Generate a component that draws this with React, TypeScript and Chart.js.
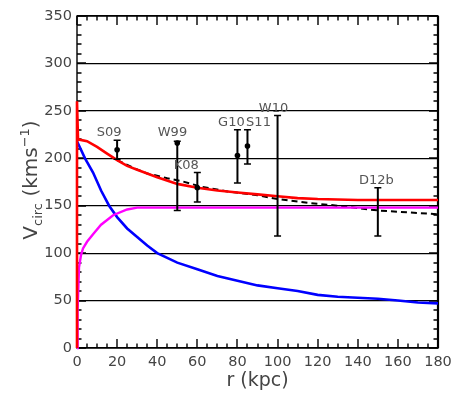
import React, { useEffect, useRef } from "react";
import { Chart, registerables } from "chart.js";

Chart.register(...registerables);

// Total rotation curve (red)
const rTotal = [0, 0, 0.5, 5, 10, 15, 20, 25, 30, 40, 50, 60, 70, 80, 90, 100, 110, 120, 140, 160, 180];
const vTotal = [0, 260, 220, 218, 212, 205, 198, 192, 188, 180, 173, 169, 166, 164, 162, 160, 158, 157, 156, 156, 156];

// Alternative model (black dashed)
const rAlt = [20, 29, 35, 45, 52, 62, 75, 90, 100, 115, 130, 150, 165, 180];
const vAlt = [198, 189, 184, 179, 176, 170, 165, 161, 157, 153, 150, 145, 143, 141];

// Baryonic component (blue)
const rBaryon = [0, 4, 8, 12, 16, 20, 25, 30, 35, 40, 50, 60, 70, 80, 90, 100, 110, 120, 130, 140, 150, 160, 170, 180];
const vBaryon = [218, 200, 185, 166, 150, 138, 126, 117, 108, 100, 90, 83, 76, 71, 66, 63, 60, 56, 54, 53, 52, 50, 48, 47];

// Dark halo component (magenta)
const rHalo = [0, 0.3, 1, 2, 3, 5, 8, 12, 18, 25, 30, 180];
const vHalo = [0, 40, 85, 98, 105, 112, 120, 130, 140, 146, 148, 148];

// Observational estimates with error bars
const obsNames = ["S09", "W99", "K08", "G10", "S11", "W10", "D12b"];
const obsR = [20, 50, 60, 80, 85, 100, 150];
const obsV: (number | null)[] = [209, 216, 169, 203, 213, null, null];
const obsLo = [199, 145, 154, 174, 194, 118, 118];
const obsHi = [219, 218, 185, 230, 230, 245, 169];
// label anchors (data units: r centre, v baseline)
const labelR = [16, 47.6, 54.5, 77, 90.5, 98, 149.3];
const labelV = [224, 224, 189, 234.5, 234.5, 249, 173];

const xTicks = [0, 20, 40, 60, 80, 100, 120, 140, 160, 180];
const yTicks = [0, 50, 100, 150, 200, 250, 300, 350];

const pts = (xs: number[], ys: number[]) => xs.map((x, i) => ({ x, y: ys[i] }));

const FONT = "'DejaVu Sans', sans-serif";

function drawFrame(chart: any) {
  const ctx = chart.ctx;
  const a = chart.chartArea;
  const xs = chart.scales.x;
  const ys = chart.scales.y;
  ctx.save();
  ctx.strokeStyle = "#000000";
  ctx.lineWidth = 1.4;
  ctx.beginPath();
  for (let v = 0; v <= 180; v += 5) {
    const px = Math.round(xs.getPixelForValue(v));
    const len = v % 20 === 0 ? 9 : 4.5;
    ctx.moveTo(px, a.bottom);
    ctx.lineTo(px, a.bottom - len);
    ctx.moveTo(px, a.top);
    ctx.lineTo(px, a.top + len);
  }
  for (let v = 0; v <= 350; v += 10) {
    const py = Math.round(ys.getPixelForValue(v));
    const len = v % 50 === 0 ? 9 : 4.5;
    ctx.moveTo(a.left, py);
    ctx.lineTo(a.left + len, py);
    ctx.moveTo(a.right, py);
    ctx.lineTo(a.right - len, py);
  }
  ctx.stroke();
  ctx.lineWidth = 1.4;
  ctx.strokeRect(a.left, a.top, a.right - a.left, a.bottom - a.top);
  ctx.lineWidth = 2.2;
  ctx.beginPath();
  ctx.moveTo(a.right, a.top);
  ctx.lineTo(a.right, a.bottom);
  ctx.stroke();
  ctx.restore();
}

const overlay = {
  id: "overlay",
  beforeDatasetsDraw(chart: any) {
    drawFrame(chart);
  },
  afterDatasetsDraw(chart: any) {
    const { ctx, chartArea: a, scales } = chart;
    const xs = scales.x, ys = scales.y;
    ctx.save();
    // error bars
    ctx.strokeStyle = "#000";
    ctx.fillStyle = "#000";
    for (let i = 0; i < obsR.length; i++) {
      const px = xs.getPixelForValue(obsR[i]);
      const pLo = ys.getPixelForValue(obsLo[i]);
      const pHi = ys.getPixelForValue(obsHi[i]);
      ctx.lineWidth = 2;
      ctx.beginPath();
      ctx.moveTo(px, pLo);
      ctx.lineTo(px, pHi);
      ctx.stroke();
      ctx.lineWidth = 1.5;
      ctx.beginPath();
      ctx.moveTo(px - 3.5, pLo);
      ctx.lineTo(px + 3.5, pLo);
      ctx.moveTo(px - 3.5, pHi);
      ctx.lineTo(px + 3.5, pHi);
      ctx.stroke();
      const v = obsV[i];
      if (v !== null) {
        ctx.beginPath();
        ctx.arc(px, ys.getPixelForValue(v), 2.8, 0, Math.PI * 2);
        ctx.fill();
      }
    }
    // labels
    ctx.fillStyle = "#555";
    ctx.font = `13px ${FONT}`;
    ctx.textAlign = "center";
    ctx.textBaseline = "alphabetic";
    for (let i = 0; i < obsNames.length; i++) {
      ctx.fillText(obsNames[i], xs.getPixelForValue(labelR[i]), ys.getPixelForValue(labelV[i]));
    }
    // x title
    ctx.fillStyle = "#444";
    ctx.font = `19px ${FONT}`;
    ctx.textAlign = "center";
    ctx.fillText("r (kpc)", (a.left + a.right) / 2, 386);
    // y title with sub/superscript
    const parts: [string, number, number][] = [
      ["V", 20, 0],
      ["circ", 13, 4.5],
      [" (kms", 20, 0],
      ["\u22121", 13, -8],
      [")", 20, 0],
    ];
    ctx.textAlign = "left";
    let total = 0;
    for (const [t, s] of parts) {
      ctx.font = `${s}px ${FONT}`;
      total += ctx.measureText(t).width;
    }
    ctx.translate(37, 180);
    ctx.rotate(-Math.PI / 2);
    let x = -total / 2;
    for (const [t, s, dy] of parts) {
      ctx.font = `${s}px ${FONT}`;
      ctx.fillText(t, x, dy);
      x += ctx.measureText(t).width;
    }
    ctx.restore();
  },
};

export default function App() {
  const ref = useRef<HTMLCanvasElement>(null);
  useEffect(() => {
    if (!ref.current) return;
    const chart = new Chart(ref.current, {
      type: "scatter",
      data: {
        datasets: [
          {
            data: pts(rTotal, vTotal),
            showLine: true,
            borderColor: "#ff0000",
            borderWidth: 2.6,
            pointRadius: 0,
            clip: false as any,
            order: 0,
          },
          {
            data: pts(rHalo, vHalo),
            showLine: true,
            borderColor: "#ff00ff",
            borderWidth: 2.4,
            pointRadius: 0,
            clip: false as any,
            order: 1,
          },
          {
            data: pts(rAlt, vAlt),
            showLine: true,
            borderColor: "#000",
            borderWidth: 2,
            borderDash: [6, 4],
            pointRadius: 0,
            order: 2,
          },
          {
            data: pts(rBaryon, vBaryon),
            showLine: true,
            borderColor: "#0000ff",
            borderWidth: 2.6,
            pointRadius: 0,
            clip: false as any,
            order: 3,
          },
        ],
      },
      options: {
        animation: false,
        responsive: false,
        devicePixelRatio: 1,
        layout: { padding: { top: 16, right: 24, left: 0, bottom: 0 } },
        plugins: { legend: { display: false }, tooltip: { enabled: false } },
        scales: {
          x: {
            type: "linear",
            min: 0,
            max: 180,
            afterFit: (s: any) => { s.height = 53; },
            afterBuildTicks: (s: any) => { s.ticks = xTicks.map((v) => ({ value: v })); },
            grid: { display: false, drawTicks: false },
            border: { display: false },
            ticks: { color: "#444", font: { family: FONT, size: 14.5 }, padding: 6, maxRotation: 0 },
          },
          y: {
            type: "linear",
            min: 0,
            max: 350,
            afterFit: (s: any) => { s.width = 77; },
            afterBuildTicks: (s: any) => { s.ticks = yTicks.map((v) => ({ value: v })); },
            grid: { color: "#000", lineWidth: 1.2, drawTicks: false },
            border: { display: false },
            ticks: { color: "#444", font: { family: FONT, size: 14.5 }, padding: 5 },
          },
        },
      },
      plugins: [overlay],
    });
    return () => chart.destroy();
  }, []);
  return (
    <div style={{ position: "absolute", left: 0, top: 0, width: 462, height: 401, background: "#fff" }}>
      <canvas ref={ref} width={462} height={401} />
    </div>
  );
}
